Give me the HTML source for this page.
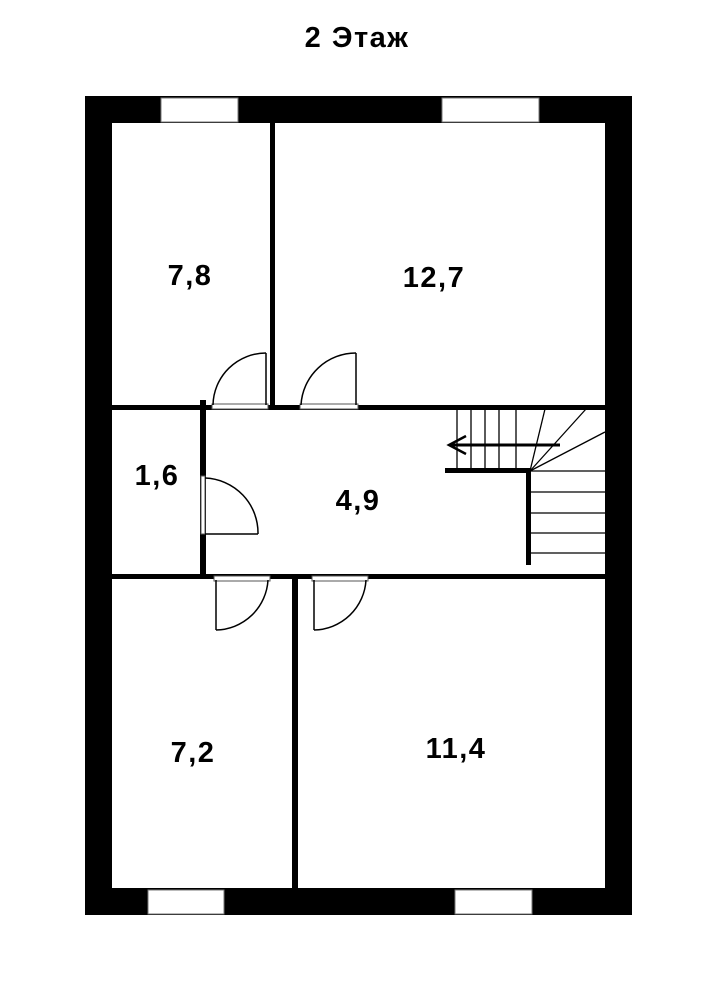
<!DOCTYPE html>
<html><head><meta charset="utf-8"><style>
html,body{margin:0;padding:0;background:#fff;width:725px;height:1006px;overflow:hidden}
</style></head><body>
<svg width="725" height="1006" viewBox="0 0 725 1006" xmlns="http://www.w3.org/2000/svg">
<text x="357" y="47" text-anchor="middle" font-family="Liberation Sans, sans-serif" font-weight="bold" font-size="29" letter-spacing="1.5">2 Этаж</text>
<!-- outer walls -->
<rect x="85" y="96" width="547" height="27" fill="#000"/>
<rect x="85" y="888" width="547" height="27" fill="#000"/>
<rect x="85" y="96" width="27" height="819" fill="#000"/>
<rect x="605" y="96" width="27" height="819" fill="#000"/>
<!-- windows -->
<rect x="161" y="98" width="77" height="24" fill="#fff" stroke="#777" stroke-width="1"/>
<rect x="442" y="98" width="97" height="24" fill="#fff" stroke="#777" stroke-width="1"/>
<rect x="148" y="890" width="76" height="24" fill="#fff" stroke="#777" stroke-width="1"/>
<rect x="455" y="890" width="77" height="24" fill="#fff" stroke="#777" stroke-width="1"/>
<!-- interior walls -->
<rect x="270" y="123" width="5" height="285" fill="#000"/>
<rect x="112" y="405" width="493" height="5" fill="#000"/>
<rect x="112" y="574" width="493" height="5" fill="#000"/>
<rect x="200" y="400" width="6" height="176" fill="#000"/>
<rect x="292" y="576" width="6" height="312" fill="#000"/>
<!-- door thresholds -->
<g fill="#fff" stroke="#555" stroke-width="1">
<rect x="212" y="404" width="56" height="5"/>
<rect x="300" y="404" width="58" height="5"/>
<rect x="201" y="476" width="4" height="58"/>
<rect x="214" y="576" width="56" height="5"/>
<rect x="312" y="576" width="56" height="5"/>
</g>
<!-- door leaves and arcs -->
<g fill="none" stroke="#000" stroke-width="1.5">
<line x1="266" y1="353" x2="266" y2="405"/><path d="M266 353 A53 53 0 0 0 213 405"/>
<line x1="356" y1="353" x2="356" y2="405"/><path d="M356 353 A55 55 0 0 0 301 405"/>
<line x1="205" y1="534" x2="258" y2="534"/><path d="M205 478 A55 55 0 0 1 258 534"/>
<line x1="216" y1="580" x2="216" y2="630"/><path d="M216 630 A53 53 0 0 0 268 580"/>
<line x1="314" y1="580" x2="314" y2="630"/><path d="M314 630 A53 53 0 0 0 366 580"/>
</g>
<!-- stairs -->
<g stroke="#000" stroke-width="1.3" fill="none">
<line x1="457" y1="409" x2="457" y2="470"/>
<line x1="471" y1="409" x2="471" y2="470"/>
<line x1="485" y1="409" x2="485" y2="470"/>
<line x1="499" y1="409" x2="499" y2="470"/>
<line x1="516" y1="409" x2="516" y2="470"/>
<line x1="530" y1="471" x2="545" y2="409"/>
<line x1="530" y1="471" x2="586" y2="409"/>
<line x1="530" y1="471" x2="605" y2="432"/>
<line x1="530" y1="471" x2="605" y2="471"/>
<line x1="530" y1="492" x2="605" y2="492"/>
<line x1="530" y1="513" x2="605" y2="513"/>
<line x1="530" y1="533" x2="605" y2="533"/>
<line x1="530" y1="553" x2="605" y2="553"/>
</g>
<rect x="445" y="468" width="86" height="5" fill="#000"/>
<rect x="526" y="468" width="5" height="97" fill="#000"/>
<g stroke="#000" stroke-width="3" fill="none">
<line x1="449" y1="445" x2="560" y2="445"/>
<polyline points="466,436 449,445 466,454" stroke-width="2.5"/>
</g>
<!-- labels -->
<g font-family="Liberation Sans, sans-serif" font-weight="bold" font-size="29" letter-spacing="1.5" text-anchor="middle">
<text x="190" y="285">7,8</text>
<text x="434" y="287">12,7</text>
<text x="157" y="485">1,6</text>
<text x="358" y="510">4,9</text>
<text x="193" y="762">7,2</text>
<text x="456" y="758">11,4</text>
</g>
</svg>
</body></html>
